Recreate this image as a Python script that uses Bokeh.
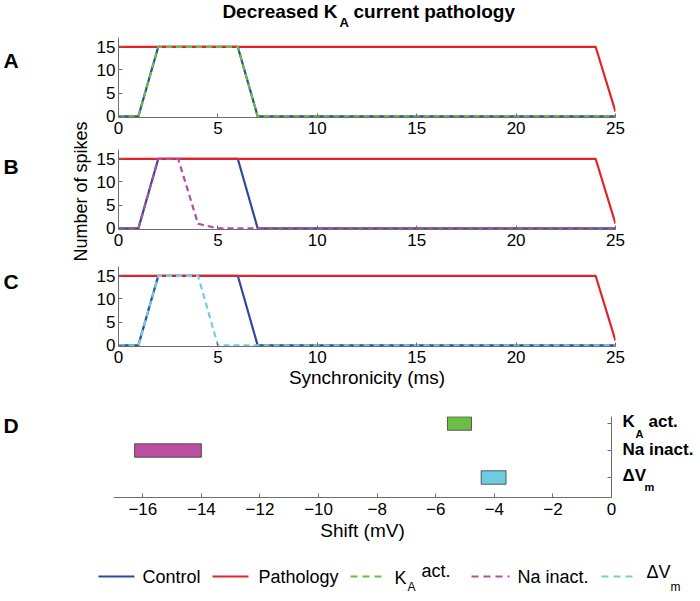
import math
from bokeh.plotting import figure
from bokeh.models import Range1d, Label, FixedTicker
from bokeh.layouts import column, row
from bokeh.embed import file_html
from bokeh.resources import INLINE

# ---------------- data ----------------
sync_ms = [0, 1, 2, 3, 4, 5, 6, 7, 8, 9, 10, 11, 12, 13, 14, 15, 16, 17, 18, 19, 20, 21, 22, 23, 24, 25]
control = [0, 0, 15, 15, 15, 15, 15, 0, 0, 0, 0, 0, 0, 0, 0, 0, 0, 0, 0, 0, 0, 0, 0, 0, 0, 0]
pathology = [15, 15, 15, 15, 15, 15, 15, 15, 15, 15, 15, 15, 15, 15, 15, 15, 15, 15, 15, 15, 15, 15, 15, 15, 15, 1]
ka_act = [0, 0, 15, 15, 15, 15, 15, 0, 0, 0, 0, 0, 0, 0, 0, 0, 0, 0, 0, 0, 0, 0, 0, 0, 0, 0]
na_inact = [0, 0, 15, 15, 1, 0, 0, 0, 0, 0, 0, 0, 0, 0, 0, 0, 0, 0, 0, 0, 0, 0, 0, 0, 0, 0]
dv_m = [0, 0, 15, 15, 15, 0, 0, 0, 0, 0, 0, 0, 0, 0, 0, 0, 0, 0, 0, 0, 0, 0, 0, 0, 0, 0]
sync_ticks = [0, 5, 10, 15, 20, 25]
spike_ticks = [0, 5, 10, 15]

mech_rows = [3, 2, 1]          # K_A act., Na inact., dV_m
shift_lo = [-5.6, -16.28, -4.45]
shift_hi = [-4.78, -14.0, -3.6]
shift_ticks = [-16, -14, -12, -10, -8, -6, -4, -2, 0]
shift_tick_labels = ["\u221216", "\u221214", "\u221212", "\u221210", "\u22128", "\u22126", "\u22124", "\u22122", "0"]

# ---------------- style ----------------
FONT = "Liberation Sans"
BLUE = "#2c4b9b"
RED = "#e3232b"
GREEN = "#6cbd45"
MAGENTA = "#b0509e"
CYAN = "#72cde0"
BAR_FILLS = ["#6bbf46", "#bb4f9f", "#6fcbe0"]
AXIS = "#6e6e6e"
DASH = "6 4"
LEG_DASH = "7 5"
LW = 2.2
TICK_FONT = "17px"
AXLABEL_FONT = "19px"

W = 700
STRIP_W = 92


def style_axes(p):
    p.outline_line_color = None
    p.xgrid.visible = False
    p.ygrid.visible = False
    for ax in p.axis:
        ax.axis_line_color = AXIS
        ax.axis_line_width = 1
        ax.major_tick_line_color = AXIS
        ax.major_tick_in = 4
        ax.major_tick_out = 0
        ax.minor_tick_line_color = None
        ax.major_label_text_font = FONT
        ax.major_label_text_font_size = TICK_FONT
        ax.major_label_text_color = "black"
        ax.axis_label_text_font = FONT
        ax.axis_label_text_font_style = "normal"
        ax.axis_label_text_font_size = AXLABEL_FONT
        ax.axis_label_text_color = "black"


def lab(p, text, x, y, size, bold=False, align="left", baseline="middle", angle=0):
    p.add_layout(Label(x=x, y=y, x_units="data", y_units="data", text=text,
                       text_font=FONT, text_font_size=size,
                       text_font_style=("bold" if bold else "normal"),
                       text_align=align, text_baseline=baseline, text_color="black",
                       angle=angle))


def bare(width, height, x0, x1, y_top, y_bot):
    """Axis-less figure whose data coordinates equal page pixel coordinates."""
    p = figure(width=width, height=height, x_range=Range1d(x0, x1), y_range=Range1d(y_bot, y_top),
               output_backend="svg", toolbar_location=None, min_border=0,
               x_axis_type=None, y_axis_type=None)
    p.outline_line_color = None
    p.xgrid.visible = False
    p.ygrid.visible = False
    return p


def spike_panel(height, top, bottom, series, color):
    p = figure(width=W - STRIP_W, height=height, x_range=Range1d(0, 25), y_range=Range1d(-0.25, 17),
               output_backend="svg", toolbar_location=None,
               min_border_left=26, min_border_right=85, min_border_top=top, min_border_bottom=bottom)
    p.xaxis.ticker = FixedTicker(ticks=sync_ticks)
    p.yaxis.ticker = FixedTicker(ticks=spike_ticks)
    style_axes(p)
    p.xaxis.major_label_standoff = 4
    p.yaxis.major_label_standoff = 3
    p.line(sync_ms, control, line_color=BLUE, line_width=LW)
    p.line(sync_ms, pathology, line_color=RED, line_width=LW)
    p.line(sync_ms, series, line_color=color, line_width=LW, line_dash=DASH)
    return p


# ---------------- title ----------------
TITLE_H = 30
title_fig = bare(W, TITLE_H, 0, W, 0, TITLE_H)
lab(title_fig, "Decreased K", 337, 11, "19px", bold=True, align="right")
lab(title_fig, "A", 339, 14, "13px", bold=True, baseline="top")
lab(title_fig, "current pathology", 353, 11, "19px", bold=True)

# ---------------- panels A-C (frames, page px: A 37-117, B 149-229, C 266-346) ----------------
pA = spike_panel(119, 7, 32, ka_act, GREEN)
pB = spike_panel(117, 0, 37, na_inact, MAGENTA)
pC = spike_panel(130, 0, 50, dv_m, CYAN)
pC.xaxis.axis_label = "Synchronicity (ms)"
pC.xaxis.axis_label_standoff = 1

H_TOP = 119 + 117 + 130
strip = bare(STRIP_W, H_TOP, 0, STRIP_W, TITLE_H, TITLE_H + H_TOP)
for letter, ly in zip(["A", "B", "C"], [60, 166, 281]):
    lab(strip, letter, 3, ly, "21px", bold=True)
lab(strip, "Number of spikes", 80, 191, "18px", align="center", angle=math.pi / 2)

# ---------------- panel D (frame, page px: x 113-611, y 416-497) ----------------
D_TOP = TITLE_H + H_TOP          # 396
D_H = 158
DL_W = 40
pD = figure(width=581, height=D_H, x_range=Range1d(-17, 0), y_range=Range1d(0.26, 3.26),
            output_backend="svg", toolbar_location=None, y_axis_location="right",
            min_border_left=73, min_border_right=10, min_border_top=20, min_border_bottom=57)
style_axes(pD)
pD.xaxis.ticker = FixedTicker(ticks=shift_ticks)
pD.xaxis.major_label_overrides = {t: s for t, s in zip(shift_ticks, shift_tick_labels)}
pD.xaxis.major_label_standoff = 5
pD.xaxis.axis_label = "Shift (mV)"
pD.xaxis.axis_label_standoff = 2
pD.yaxis.ticker = FixedTicker(ticks=mech_rows)
pD.yaxis.major_label_overrides = {t: "" for t in mech_rows}
pD.hbar(y=mech_rows, left=shift_lo, right=shift_hi, height=0.5,
        fill_color=BAR_FILLS, line_color="#3a3a3a", line_width=0.8)

dleft = bare(DL_W, D_H, 0, DL_W, D_TOP, D_TOP + D_H)
lab(dleft, "D", 3, 425, "21px", bold=True)

DR_X0 = DL_W + 581               # 621
dright = bare(W - DR_X0, D_H, DR_X0, W, D_TOP, D_TOP + D_H)
lab(dright, "K", 622, 421, "17px", bold=True)
lab(dright, "A", 635, 427, "11px", bold=True, baseline="top")
lab(dright, "act.", 648, 421, "17px", bold=True)
lab(dright, "Na inact.", 622, 449, "17px", bold=True)
lab(dright, "\u0394V", 622, 475, "17px", bold=True)
lab(dright, "m", 644, 480, "11px", bold=True, baseline="top")

# ---------------- legend (page coordinates) ----------------
LEG_TOP = D_TOP + D_H            # 554
LEG_BOT = 596
leg = bare(W, LEG_BOT - LEG_TOP, 0, W, LEG_TOP, LEG_BOT)
LEG_Y = 576
leg_items = [(98, 134, BLUE, "solid"), (212, 248, RED, "solid"), (350, 386, GREEN, LEG_DASH),
             (471, 509, MAGENTA, LEG_DASH), (601, 637, CYAN, LEG_DASH)]
for x0, x1, c, d in leg_items:
    leg.line([x0, x1], [LEG_Y, LEG_Y], line_color=c, line_width=LW, line_dash=d)
lab(leg, "Control", 142, LEG_Y, "18px")
lab(leg, "Pathology", 258, LEG_Y, "18px")
lab(leg, "K", 394, LEG_Y + 1, "18px")
lab(leg, "A", 407, LEG_Y + 3, "12px", baseline="top")
lab(leg, "act.", 421, LEG_Y - 6, "18px")
lab(leg, "Na inact.", 517, LEG_Y, "18px")
lab(leg, "\u0394V", 646, LEG_Y - 5, "18px")
lab(leg, "m", 670, LEG_Y + 3, "12px", baseline="top")

layout = column(
    row(title_fig),
    row(strip, column(pA, pB, pC)),
    row(column(dleft), pD, column(dright)),
    row(leg),
)
open("out.html", "w").write(file_html(layout, INLINE))
